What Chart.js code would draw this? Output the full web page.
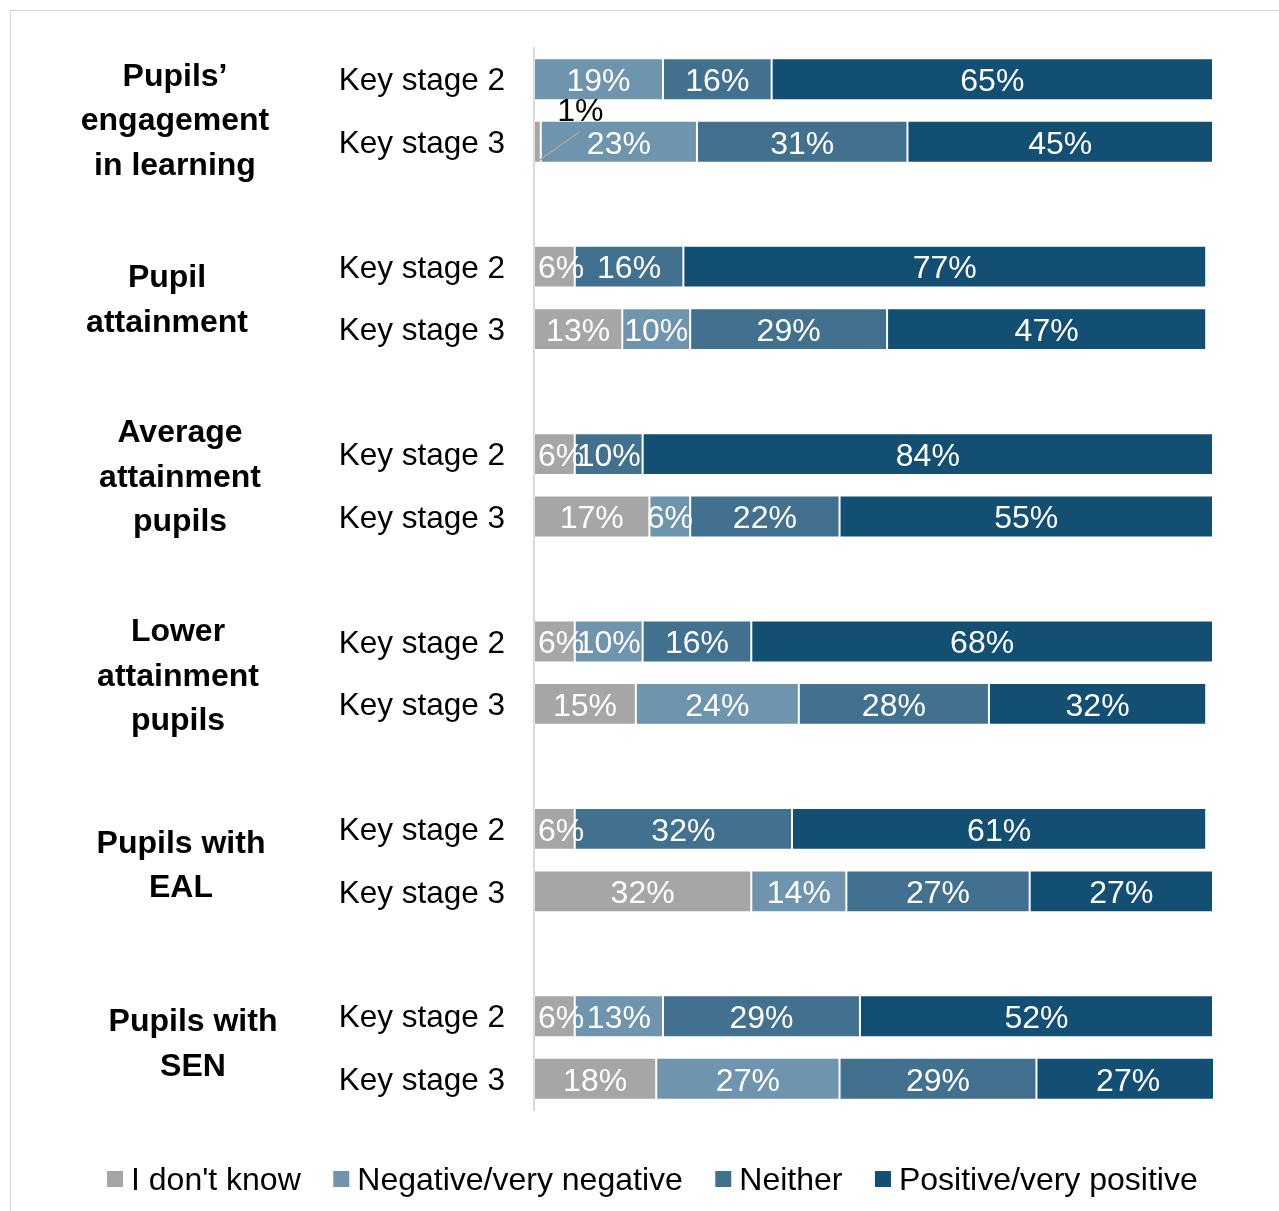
<!DOCTYPE html>
<html>
<head>
<meta charset="utf-8">
<title>Views by key stage</title>
<script src="https://cdn.jsdelivr.net/npm/chart.js@4.4.1/dist/chart.umd.min.js"></script>
<style>
	html, body { margin: 0; padding: 0; background: #fff; overflow: hidden; }
	#wrap { position: relative; width: 1279px; height: 1211px; }
	#frame { position: absolute; left: 10px; top: 10px; width: 1400px; height: 1400px; border: 1px solid #d6d6d6; }
	#myChart { position: absolute; left: 0; top: 0; }
</style>
</head>
<body>
<div id="wrap">
	<div id="frame"></div>
	<canvas id="myChart" width="1279" height="1211"></canvas>
</div>
<script>
// Nhóm học sinh (mỗi nhóm có 2 hàng: KS2, KS3)
var groups = [
	["Pupils’", "engagement", "in learning"],
	["Pupil", "attainment"],
	["Average", "attainment", "pupils"],
	["Lower", "attainment", "pupils"],
	["Pupils with", "EAL"],
	["Pupils with", "SEN"]
];
var stages = ["Key stage 2", "Key stage 3"];

// Giá trị (%) theo thứ tự: nhóm1 KS2, nhóm1 KS3, nhóm2 KS2, ...
var dontKnow = [null, 1, 6, 13, 6, 17, 6, 15, 6, 32, 6, 18];
var negative = [19, 23, null, 10, null, 6, 10, 24, null, 14, 13, 27];
var neither  = [16, 31, 16, 29, 10, 22, 16, 28, 32, 27, 29, 29];
var positive = [65, 45, 77, 47, 84, 55, 68, 32, 61, 27, 52, 27];

var seriesNames = ["I don't know", "Negative/very negative", "Neither", "Positive/very positive"];
var seriesColors = ['#a6a6a6', '#6f94ae', '#41718f', '#124f72'];

var FONT = "'Liberation Sans', Arial, sans-serif";

// vị trí nhãn nhóm bên trái (tâm x, lệch y so với giữa 2 thanh)
var groupLabelPos = [
	{ x: 175, dy: 11 },
	{ x: 167, dy: 3 },
	{ x: 180, dy: -7.5 },
	{ x: 178, dy: 4 },
	{ x: 181, dy: 6 },
	{ x: 193, dy: -3 }
];

// mỗi nhóm 3 ô: KS2, KS3, khoảng trống (nhóm cuối không có khoảng trống)
var labels = [];
groups.forEach(function (g, i) {
	labels.push(stages[0], stages[1]);
	if (i < groups.length - 1) labels.push('');
});

function expand(values) {
	var out = [];
	groups.forEach(function (g, i) {
		out.push(values[i * 2], values[i * 2 + 1]);
		if (i < groups.length - 1) out.push(null);
	});
	return out;
}

var allValues = [dontKnow, negative, neither, positive];
var datasets = allValues.map(function (vals, k) {
	return {
		label: seriesNames[k],
		data: expand(vals),
		backgroundColor: seriesColors[k],
		borderColor: 'rgba(255, 255, 255, 0.22)',
		borderWidth: 1,
		borderSkipped: false,
		barPercentage: 0.67,
		categoryPercentage: 1
	};
});

// nhãn % trong từng đoạn
var segmentLabels = {
	id: 'segmentLabels',
	afterDatasetsDraw: function (chart) {
		var ctx = chart.ctx;
		var left0 = chart.chartArea.left;
		ctx.save();
		ctx.font = '32px ' + FONT;
		ctx.textAlign = 'center';
		ctx.textBaseline = 'middle';
		chart.data.datasets.forEach(function (ds, di) {
			chart.getDatasetMeta(di).data.forEach(function (bar, i) {
				var v = ds.data[i];
				if (v == null) return;
				var txt = v + '%';
				var cx = (bar.x + bar.base) / 2;
				var top = bar.y - bar.height / 2;
				var bottom = bar.y + bar.height / 2;
				if (v < 3) {
					// đoạn quá nhỏ: đặt nhãn phía trên, có đường dẫn
					ctx.strokeStyle = '#a6a6a6';
					ctx.lineWidth = 1.5;
					ctx.beginPath();
					ctx.moveTo(cx, bottom - 1);
					ctx.lineTo(cx + 42, top + 11);
					ctx.stroke();
					ctx.fillStyle = '#000';
					ctx.fillText(txt, cx + 43, top - 9);
				} else {
					// không để nhãn tràn qua trục bên trái
					var w = ctx.measureText(txt).width;
					var x = Math.max(cx, left0 + 4 + w / 2);
					ctx.fillStyle = '#fff';
					ctx.fillText(txt, x, bar.y + 3);
				}
			});
		});
		ctx.restore();
	}
};

// tên nhóm (chữ đậm) bên trái
var groupTitles = {
	id: 'groupTitles',
	afterDraw: function (chart) {
		var ctx = chart.ctx;
		var y = chart.scales.y;
		var lineH = 44.5;
		ctx.save();
		ctx.font = 'bold 32px ' + FONT;
		ctx.fillStyle = '#000';
		ctx.textAlign = 'center';
		ctx.textBaseline = 'middle';
		groups.forEach(function (lines, g) {
			var mid = (y.getPixelForValue(g * 3) + y.getPixelForValue(g * 3 + 1)) / 2 + groupLabelPos[g].dy;
			var first = mid - (lines.length - 1) * lineH / 2;
			lines.forEach(function (t, k) {
				ctx.fillText(t, groupLabelPos[g].x, first + k * lineH);
			});
		});
		ctx.restore();
	}
};

// chú thích phía dưới
var bottomLegend = {
	id: 'bottomLegend',
	afterDraw: function (chart) {
		var ctx = chart.ctx;
		var x = 107, ly = 1179;
		ctx.save();
		ctx.font = '32px ' + FONT;
		ctx.textAlign = 'left';
		ctx.textBaseline = 'middle';
		chart.data.datasets.forEach(function (ds) {
			ctx.fillStyle = ds.backgroundColor;
			ctx.fillRect(x, ly - 8, 16, 16);
			ctx.fillStyle = '#000';
			ctx.fillText(ds.label, x + 24, ly + 2);
			x += 24 + ctx.measureText(ds.label).width + 32.5;
		});
		ctx.restore();
	}
};

var ctx = document.getElementById("myChart").getContext("2d");
var myChart = new Chart(ctx, {
	type: 'bar',
	data: { labels: labels, datasets: datasets },
	plugins: [segmentLabels, groupTitles, bottomLegend],
	options: {
		indexAxis: 'y',
		responsive: false,
		animation: false,
		layout: { padding: { top: 48, right: 66, bottom: 101, left: 0 } },
		scales: {
			x: {
				stacked: true,
				min: 0,
				max: 100,
				display: false
			},
			y: {
				stacked: true,
				grid: { display: false, drawTicks: false },
				border: { display: true, color: '#d9d9d9', width: 2 },
				ticks: {
					color: '#000',
					padding: 29,
					labelOffset: 2.5,
					font: { family: FONT, size: 31.5 }
				},
				afterFit: function (scale) {
					scale.width = 534;
				}
			}
		},
		plugins: {
			legend: { display: false },
			tooltip: { enabled: false }
		}
	}
});
</script>
</body>
</html>
